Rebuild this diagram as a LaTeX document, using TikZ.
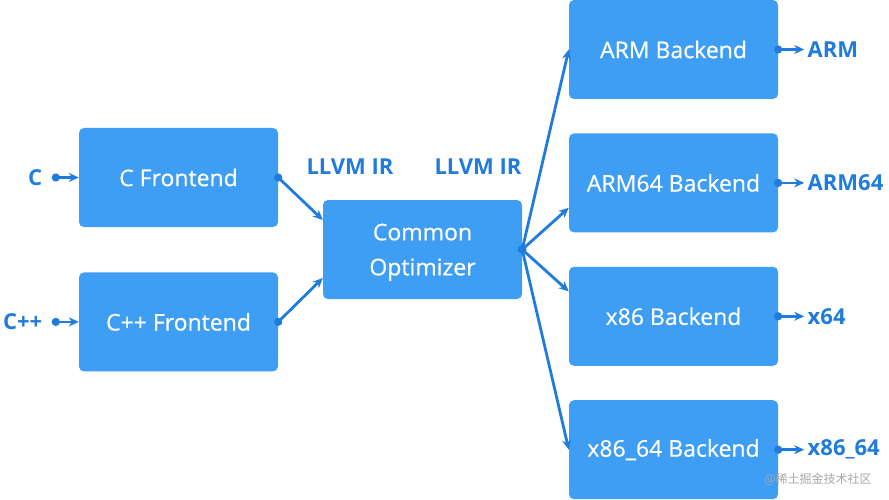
\documentclass[tikz,border=0pt]{standalone}
\usepackage{fontspec}
\setmainfont{Open Sans}
\newfontfamily\boxfont{Open Sans}[FakeBold=0.5]
\newfontfamily\cjk{Noto Sans CJK SC}
\usetikzlibrary{arrows.meta}
\usetikzlibrary{positioning}
\usetikzlibrary{calc}

\definecolor{boxblue}{HTML}{3D9EF4}
\definecolor{linkblue}{HTML}{1F7BDC}

\tikzset{
    stage/.style={rectangle, rounded corners=5pt, fill=boxblue, text=white,
        minimum width=199pt, minimum height=99pt, inner sep=0pt, align=center,
        font=\boxfont\fontsize{23}{35}\selectfont},
    backend/.style={stage, minimum width=209pt},
    tag/.style={text=linkblue, font=\bfseries\fontsize{22}{26}\selectfont},
    link/.style={{Circle[length=8pt]}-{Stealth[length=10pt,width=9pt]},
        linkblue, line width=2.8pt, shorten <=-4pt},
    inlink/.style={link, shorten <=6pt},
}

\begin{document}
\begin{tikzpicture}[x=1pt, y=-1pt, node distance=45pt and 45pt]

    \useasboundingbox (0,0) rectangle (889,500);

    % Frontends
    \node[stage] (cfront) at (178.5,177.5) {C Frontend};
    \node[stage, below=45pt of cfront] (cppfront) {C++ Frontend};

    \node[tag, left=33pt of cfront]   (c)   {C};
    \node[tag, left=33pt of cppfront] (cpp) {C++};

    \draw[inlink] (c)   -- (cfront);
    \draw[inlink] (cpp) -- (cppfront);

    % Optimizer
    \node[stage, text depth=0pt] (opt) at (422.5,249.5) {Common\\Optimizer};

    \node[tag] (irin)  at (350,167) {LLVM IR};
    \node[tag] (irout) at (478,167) {LLVM IR};

    \draw[link] (cfront.east)   -- (opt.west |- 0,220);
    \draw[link] (cppfront.east) -- (opt.west |- 0,278);

    % Backends
    \node[backend] (arm) at (673.5,49.5) {ARM Backend};
    \node[backend, below=34pt of arm]    (arm64)  {ARM64 Backend};
    \node[backend, below=34pt of arm64]  (x86)    {x86 Backend};
    \node[backend, below=34pt of x86]    (x8664)  {x86\_64 Backend};

    \draw[link] (opt.east) -- (arm.west);
    \draw[link] (opt.east) -- ($(arm64.south west)!0.25!(arm64.north west)$);
    \draw[link] (opt.east) -- ($(x86.north west)!0.25!(x86.south west)$);
    \draw[link] (opt.east) -- (x8664.west);

    % Targets
    \node[tag, right=26pt of arm]   (armout)   {ARM};
    \node[tag, right=26pt of arm64] (arm64out) {ARM64};
    \node[tag, right=26pt of x86]   (x64out)   {x64};
    \node[tag, right=26pt of x8664] (x8664out) {x86\_64};

    \draw[link] (arm)   -- (armout);
    \draw[link] (arm64) -- (arm64out);
    \draw[link] (x86)   -- (x64out);
    \draw[link] (x8664) -- (x8664out);

    % Watermark
    \node[text=black!35, font=\cjk\fontsize{12}{14}\selectfont] (mark) at (818,479) {@稀土掘金技术社区};

\end{tikzpicture}
\end{document}
